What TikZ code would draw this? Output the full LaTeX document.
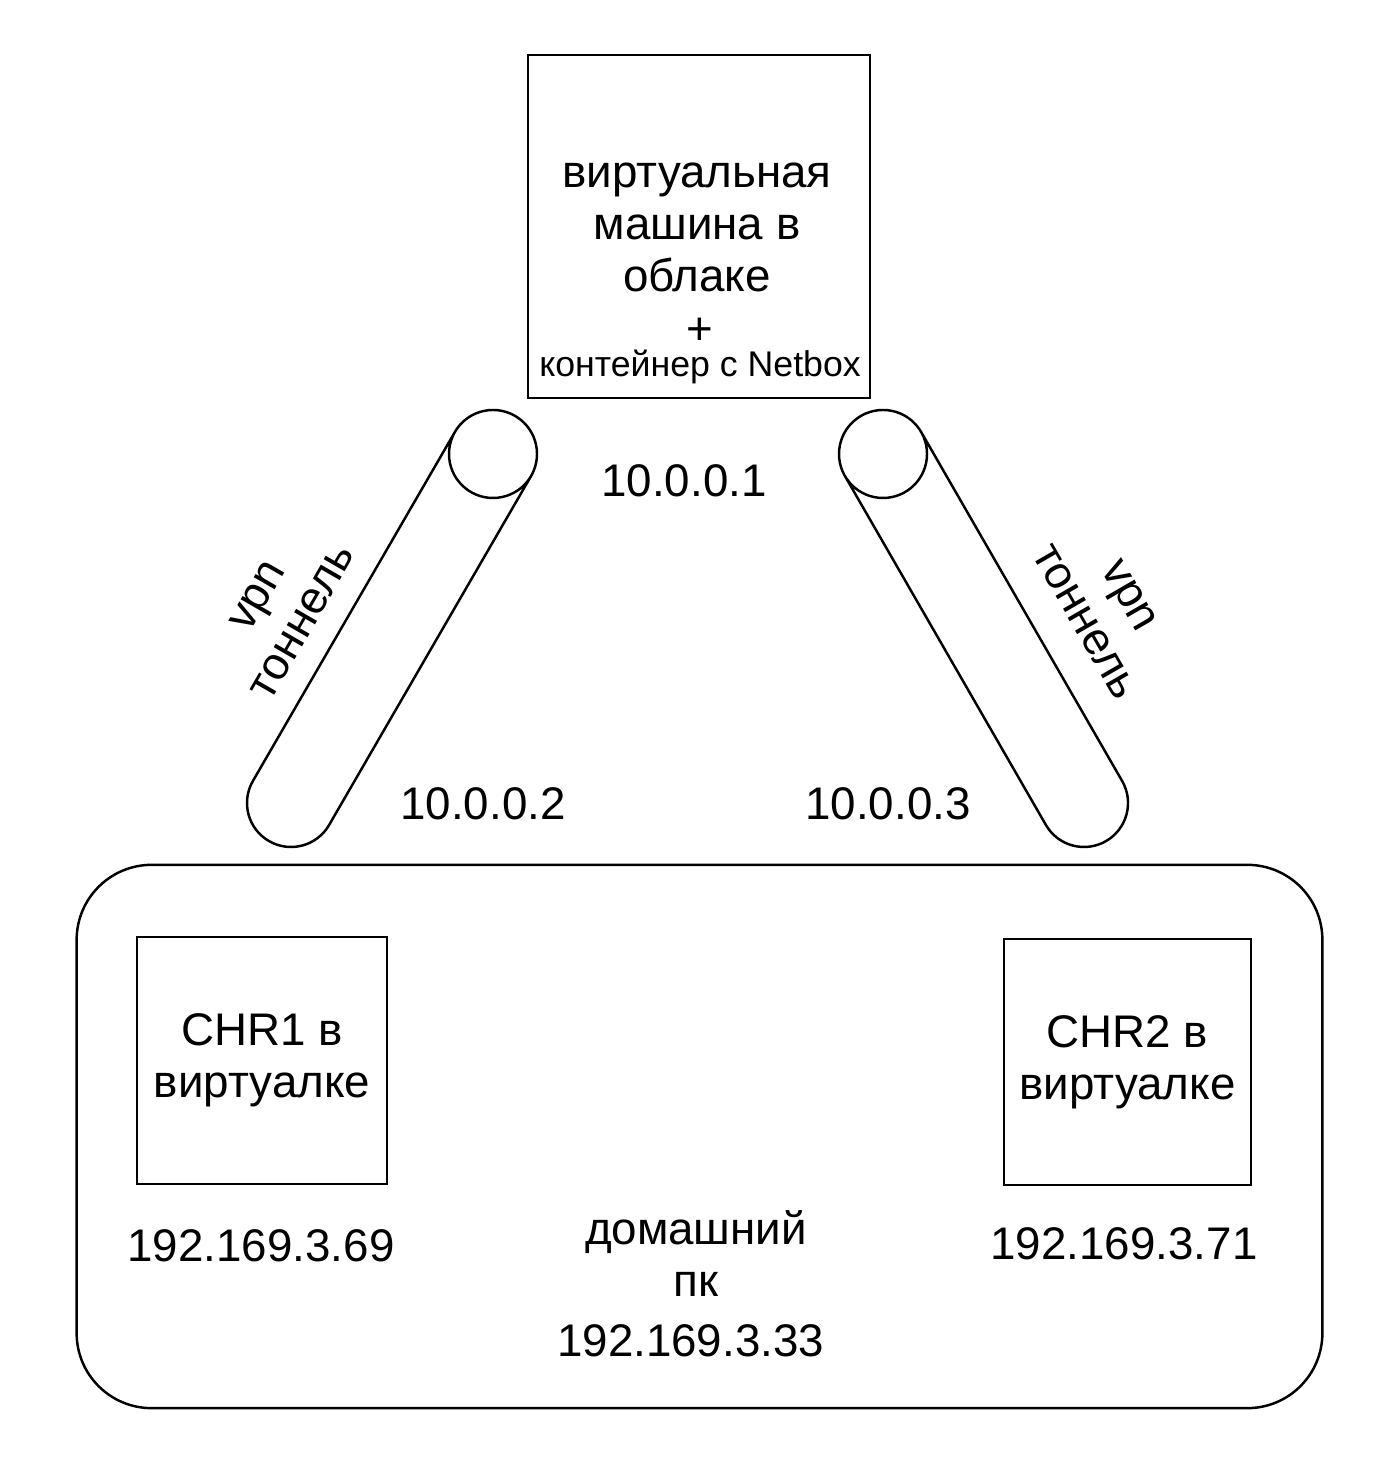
\documentclass[tikz,border=0pt]{standalone}
\usepackage{fontspec}
\setmainfont{Liberation Sans}
\usetikzlibrary{calc,positioning}

\begin{document}
\begin{tikzpicture}[
        x=0.01cm, y=0.01cm,
        line width=0.7pt,
        box/.style = {
                rectangle,
                draw,
                inner sep=0pt,
            },
        txt/.style = {
                align=center,
                inner sep=0pt,
                font=\fontsize{13}{14.9}\selectfont,
            },
        small/.style = {
                txt,
                font=\fontsize{10.15}{12}\selectfont,
            },
    ]
    \useasboundingbox (0,0) rectangle (1398,1474);
    % boxes
    \node[box, rounded corners=0.75cm, minimum width=12.45cm, minimum height=5.43cm] (pc) at (699.5,337.5) {};
    \node[box, minimum width=3.42cm, minimum height=3.43cm] (vm) at (699,1247.5) {};
    \node[box, txt, minimum width=2.5cm, minimum height=2.47cm] (chr1) at (262,413.5) {CHR1 в\\виртуалке};
    \node[box, txt, minimum width=2.47cm, minimum height=2.46cm] (chr2) at (1127.5,412) {CHR2 в\\виртуалке};
    \node[txt, anchor=base] (vmname) at (697,1182) {виртуальная\\машина в\\облаке};
    \node[txt] (plus) at (700,1143) {+};
    \node[small, anchor=base] (netbox) at (700,1097) {контейнер с Netbox};
    \node[txt, anchor=base] (pcname) at (696,177) {домашний\\пк};
    % tunnels
    \coordinate (t1) at (493,1020);
    \coordinate (b1) at (291,671);
    \coordinate (t2) at (883,1020);
    \coordinate (b2) at (1084,671);
    \foreach \t/\b/\a in {t1/b1/150, t2/b2/210}
    \draw ($(\t)+(\a:44)$) -- ($(\b)+(\a:44)$) arc[start angle=\a, delta angle=180, radius=44]
    -- ($(\t)+(\a+180:44)$) (\t) circle[radius=44];
    \node[txt, rotate=60] (vpn1) at (280,865) {vpn\\тоннель};
    \node[txt, rotate=-60] (vpn2) at (1107,865) {vpn\\тоннель};
    % addresses
    \foreach \n/\p/\q in {
            ip1/{684,977}/10.0.0.1,
            ip2/{483,654}/10.0.0.2,
            ip3/{888,654}/10.0.0.3,
            ipchr1/{261,212}/192.169.3.69,
            ipchr2/{1124,214}/192.169.3.71,
            ippc/{697,117}/192.169.3.33
        }
    \node[txt, anchor=base] (\n) at (\p) {\q};
\end{tikzpicture}
\end{document}
